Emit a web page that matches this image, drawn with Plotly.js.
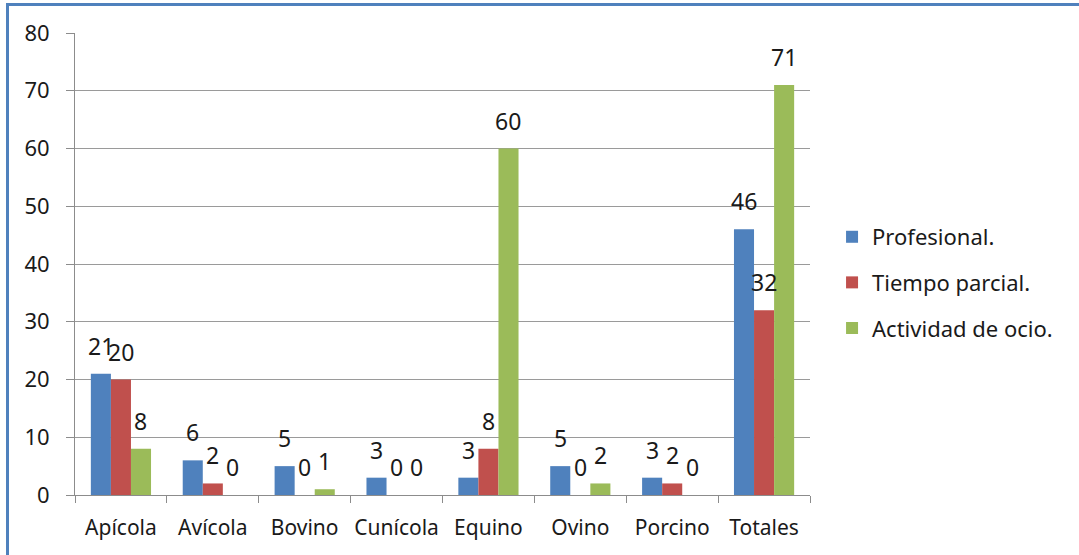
<!DOCTYPE html>
<html>
<head>
<meta charset="utf-8">
<script src="https://cdn.plot.ly/plotly-3.0.1.min.js"></script>
<style>
  html, body { margin: 0; padding: 0; background: #ffffff; }
  #wrap { position: relative; width: 1079px; height: 555px; overflow: hidden; }
  #chart { width: 1079px; height: 555px; }
  #frame {
    position: absolute; left: 6px; top: 3px; width: 1200px; height: 700px;
    border-top: 3px solid #4f81bd; border-left: 3px solid #4f81bd;
    pointer-events: none;
  }
</style>
</head>
<body>
<div id="wrap">
  <div id="chart"></div>
  <div id="frame"></div>
</div>
<script>
// Explotaciones por especie y tipo de actividad
const categories = ['Apícola', 'Avícola', 'Bovino', 'Cunícola', 'Equino', 'Ovino', 'Porcino', 'Totales'];
const profesional = [21, 6, 5, 3, 3, 5, 3, 46];
const tiempoParcial = [20, 2, 0, 0, 8, 0, 2, 32];
const actividadOcio = [8, 0, 1, 0, 60, 2, 0, 71];
const seriesNames = ['Profesional.', 'Tiempo parcial.', 'Actividad de ocio.'];
const seriesColors = ['#4f81bd', '#c0504d', '#9bbb59'];
const yTicks = [0, 10, 20, 30, 40, 50, 60, 70, 80];

const FONT = 'Noto Sans, Open Sans, sans-serif';
const W = 1079, H = 555;
const M = { l: 75, r: 269, t: 33, b: 60 };
const BARGAP = 0.345;
const seriesValues = [profesional, tiempoParcial, actividadOcio];

// width of one bar in pixels, used to centre each value label over its bar
const groupPx = (W - M.l - M.r) / categories.length;
const barPx = groupPx * (1 - BARGAP) / seriesValues.length;

const traces = seriesValues.map((vals, i) => ({
  type: 'bar',
  name: seriesNames[i],
  x: categories,
  y: vals,
  marker: { color: seriesColors[i], line: { width: 0 } },
  legendgroup: 'g' + i,
  hoverinfo: 'x+y+name'
}));

// value labels sitting above each bar
const annotations = [];
seriesValues.forEach((vals, i) => {
  vals.forEach((v, j) => {
    annotations.push({
      x: categories[j], y: v, xref: 'x', yref: 'y',
      text: String(v), showarrow: false,
      xanchor: 'center', yanchor: 'bottom',
      xshift: (i - (seriesValues.length - 1) / 2) * barPx,
      yshift: 10,
      font: { family: FONT, size: 23, color: '#1a1a1a' }
    });
  });
});

const layout = {
  width: W,
  height: H,
  margin: M,
  paper_bgcolor: '#ffffff',
  plot_bgcolor: '#ffffff',
  barmode: 'group',
  bargap: BARGAP,
  bargroupgap: 0,
  font: { family: FONT, size: 22, color: '#1a1a1a' },
  annotations: annotations,
  showlegend: true,
  legend: {
    x: 1.03, y: 0.46, xanchor: 'left', yanchor: 'middle',
    traceorder: 'grouped',
    tracegroupgap: 14,
    font: { family: FONT, size: 22, color: '#1a1a1a' },
    bgcolor: 'rgba(0,0,0,0)'
  },
  xaxis: {
    type: 'category',
    showline: true, linecolor: '#8c8c8c', linewidth: 1,
    ticks: 'outside', tickson: 'boundaries', ticklen: 7, tickcolor: '#8c8c8c',
    tickangle: 0,
    tickfont: { family: FONT, size: 21, color: '#1a1a1a' },
    ticklabelstandoff: 14,
    showgrid: false, zeroline: false,
    fixedrange: true
  },
  yaxis: {
    range: [0, 80],
    tickmode: 'array',
    tickvals: yTicks,
    ticktext: yTicks.map(String),
    showline: true, linecolor: '#8c8c8c', linewidth: 1,
    ticks: 'outside', ticklen: 8, tickcolor: '#8c8c8c',
    showgrid: true, gridcolor: '#9a9a9a', gridwidth: 1,
    zeroline: false,
    tickfont: { family: FONT, size: 22, color: '#1a1a1a' },
    ticklabelstandoff: 12,
    fixedrange: true
  }
};

Plotly.newPlot('chart', traces, layout, { displayModeBar: false, staticPlot: true });
</script>
</body>
</html>
